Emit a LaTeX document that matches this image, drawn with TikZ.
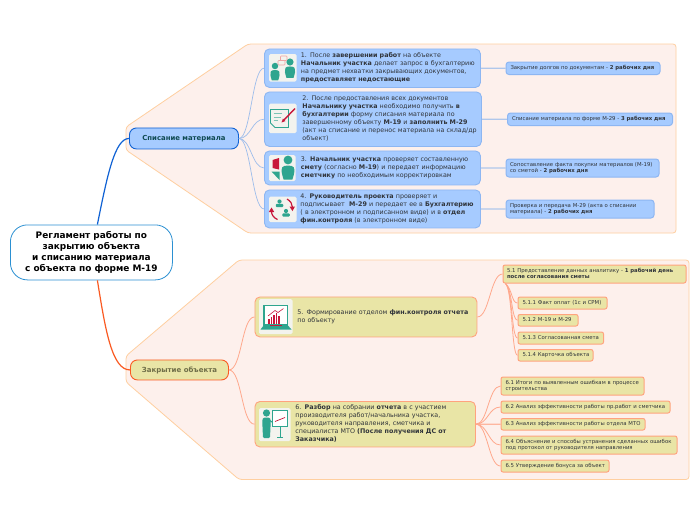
\documentclass[tikz,border=0pt]{standalone}
\usepackage{fontspec}
\setmainfont{DejaVu Sans}
\usepackage{array}
\definecolor{bluefill}{HTML}{A6CBFF}
\definecolor{blueedge}{HTML}{8DB6F2}
\definecolor{bluedark}{HTML}{1062D4}
\definecolor{bluewire}{HTML}{9DBDEB}
\definecolor{rootedge}{HTML}{2B90D2}
\definecolor{yelfill}{HTML}{E9E5A6}
\definecolor{orgedge}{HTML}{FFA37E}
\definecolor{orgdark}{HTML}{FA5A22}
\definecolor{orgwire}{HTML}{FFA88C}
\definecolor{zonefill}{HTML}{FDF0EC}
\definecolor{zoneedge}{HTML}{FFCFA0}
\definecolor{txt}{HTML}{30343A}
\definecolor{teal}{HTML}{2EA58F}
\definecolor{crim}{HTML}{C8173A}
\definecolor{iconbg}{HTML}{F3F3EE}
\definecolor{pinkish}{HTML}{EFA3A3}
\definecolor{spistxt}{HTML}{0F4A52}
\definecolor{zakrtxt}{HTML}{6F6E48}
\tikzset{x=1pt,y=-1pt,
  zone/.style={draw=zoneedge,fill=zonefill,line width=0.8pt,rounded corners=3pt},
  boxbase/.style={rectangle,text=txt,align=left},
  bigblue/.style={boxbase,fill=bluefill,draw=blueedge,line width=0.9pt,rounded corners=5pt,font=\fontsize{6.35}{8.05}\selectfont},
  smallblue/.style={boxbase,fill=bluefill,draw=blueedge,line width=1pt,rounded corners=3pt,font=\fontsize{5.35}{6.1}\selectfont},
  bigyel/.style={boxbase,fill=yelfill,draw=orgedge,line width=0.9pt,rounded corners=5pt,font=\fontsize{6.35}{8.05}\selectfont},
  smallyel/.style={boxbase,fill=yelfill,draw=orgedge,line width=1pt,rounded corners=2pt,font=\fontsize{5.35}{6.1}\selectfont},
  bluewireline/.style={draw=bluewire,line width=0.7pt},
  orgwireline/.style={draw=orgwire,line width=0.8pt},
  flat/.style={line width=1.1pt,opacity=.8},
  iconbox/.style={fill=iconbg,rounded corners=1.5pt}}
\newcommand\bx[8]{%
  \pgfmathsetmacro\bxw{#5-#3}\pgfmathsetmacro\bxh{#6-#4}%
  \node[#2,anchor=north west,inner sep=0pt,text width=\bxw pt,minimum height=\bxh pt] (#1) at (#3,#4)
   {\hspace*{#7pt}\begin{tabular}{@{}l@{}}#8\end{tabular}};}
\newcommand\person[3]{\begin{scope}[shift={(#1,#2)},scale=#3]
  \fill[teal] (0,0) circle[radius=3.4pt];
  \fill[teal] (-3.4,15) .. controls (-4.6,11) and (-5.6,8) .. (-4.4,5.6) .. controls (-3.4,3.8) and (3.4,3.8) .. (4.4,5.6) .. controls (5.6,8) and (4.6,11) .. (3.4,15) -- cycle;
\end{scope}}
\begin{document}
\begin{tikzpicture}
\useasboundingbox (0,0) rectangle (696,520);
\fill[white] (0,0) rectangle (696,520);
% zones
\draw[zone] (126,127) -- (248,44) -- (676,44) -- (676,233) -- (248,233) -- (126,150) -- cycle;
\draw[zone] (126,356) -- (239,260) -- (689,260) -- (689,479.5) -- (239,479.5) -- (126,382) -- cycle;
% nodes
\node[draw=rootedge,fill=white,line width=0.8pt,rounded corners=17pt,anchor=north west,minimum width=162pt,minimum height=55pt,inner sep=0pt,align=center,font=\fontsize{8.95}{11}\selectfont\bfseries] (root) at (10,224.5)
 {Регламент работы по\\закрытию объекта\\и списанию материала\\с объекта по форме М-19};
\node[fill=bluefill,draw=bluedark,line width=0.9pt,rounded corners=7pt,anchor=north west,minimum width=109pt,minimum height=21pt,inner sep=0pt,text=spistxt,font=\fontsize{6.9}{8}\selectfont\bfseries] (spis) at (129,127.5) {Списание материала};
\node[fill=yelfill,draw=orgdark,line width=0.9pt,rounded corners=7pt,anchor=north west,minimum width=98pt,minimum height=20pt,inner sep=0pt,text=zakrtxt,font=\fontsize{7}{8}\selectfont\bfseries] (zakr) at (130,359.5) {Закрытие объекта};
\bx{n1}{bigblue}{264}{48.5}{480}{87}{36.5}{1. После \textbf{завершении работ} на объекте\\\textbf{Начальник участка} делает запрос в бухгалтерию\\на предмет нехватки закрывающих документов,\\\textbf{предоставляет недостающие}}
\bx{n2}{bigblue}{264}{91.5}{481}{146}{38}{2. После предоставления всех документов\\\textbf{Начальнику участка} необходимо получить \textbf{в}\\\textbf{бухгалтерии} форму списания материала по\\завершенному объекту \textbf{М-19} и \textbf{заполнить М-29}\\(акт на списание и перенос материала на склад/др\\объект)}
\bx{n3}{bigblue}{264}{150.5}{480}{184.5}{36.5}{3. \textbf{Начальник участка} проверяет составленную\\\textbf{смету} (согласно \textbf{М-19}) и передает информацию\\\textbf{сметчику} по необходимым корректировкам}
\bx{n4}{bigblue}{264}{189.5}{480}{227.5}{36}{4. \textbf{Руководитель проекта} проверяет и\\подписывает\ \ \textbf{М-29} и передает ее в \textbf{Бухгалтерию}\\( в электронном и подписанном виде) и в \textbf{отдел}\\\textbf{фин.контроля} (в электронном виде)}
\bx{r1}{smallblue}{505.5}{61.5}{659.5}{74}{4.5}{Закрытие долгов по документам - \textbf{2 рабочих дня}}
\bx{r2}{smallblue}{507}{112.5}{672}{125}{4.5}{Списание материала по форме М-29 - \textbf{3 рабочих дня}}
\bx{r3}{smallblue}{505.5}{158.5}{658.5}{176.5}{4}{Сопоставление факта покупки материалов (М-19)\\со сметой - \textbf{2 рабочих дня}}
\bx{r4}{smallblue}{505.5}{199.5}{653.5}{217.5}{4}{Проверка и передача М-29 (акта о списании\\материала) - \textbf{2 рабочих дня}}
\bx{n5}{bigyel}{254.5}{296.5}{476.5}{336.5}{42.5}{5. Формирование отделом \textbf{фин.контроля отчета}\\по объекту}
\bx{n6}{bigyel}{254.5}{401}{475}{446.5}{40.5}{6. \textbf{Разбор} на собрании \textbf{отчета} в с участием\\производителя работ/начальника участка,\\руководителя направления, сметчика и\\специалиста МТО \textbf{(После получения ДС от}\\\textbf{Заказчика)}}
\bx{a1}{smallyel}{502.5}{264.5}{685.5}{282.5}{4}{5.1 Предоставление данных аналитику - \textbf{1 рабочий день}\\\textbf{после согласования сметы}}
\bx{a2}{smallyel}{517.5}{296.5}{606.5}{308.5}{4.5}{5.1.1 Факт оплат (1с и CPM)}
\bx{a3}{smallyel}{517.5}{314}{577.5}{325.5}{4.5}{5.1.2 М-19 и М-29}
\bx{a4}{smallyel}{517.5}{331.5}{603}{343.5}{4.5}{5.1.3 Согласованная смета}
\bx{a5}{smallyel}{517.5}{349}{592.5}{360.5}{4.5}{5.1.4 Карточка объекта}
\bx{b1}{smallyel}{500.5}{376.5}{643.5}{394.5}{4.5}{6.1 Итоги по выявленным ошибкам в процессе\\строительства}
\bx{b2}{smallyel}{500.5}{400.5}{669.5}{412.5}{4.5}{6.2 Анализ эффективности работы пр.работ и сметчика}
\bx{b3}{smallyel}{500.5}{418}{644.5}{429.5}{4.5}{6.3 Анализ эффективности работы отдела МТО}
\bx{b4}{smallyel}{500.5}{435.5}{676.5}{453.5}{4.5}{6.4 Объяснение и способы устранения сделанных ошибок\\под протокол от руководителя направления}
\bx{b5}{smallyel}{500.5}{459.5}{608.5}{471.5}{4.5}{6.5 Утверждение бонуса за объект}
% connectors
\draw[bluedark,line width=1.2pt] ([xshift=6pt]root.north) .. controls +(10,-50) and +(-14,0) .. (spis.west);
\draw[orgdark,line width=1.2pt] ([xshift=6pt]root.south) .. controls +(8,50) and +(-18,0) .. (zakr.west);
\foreach \t in {n1,n2,n3,n4}{\draw[bluewireline] (spis.east) .. controls +(12,0) and +(-12,0) .. (\t.west);}
\draw[orgwireline] (zakr.east) .. controls +(13,0) and +(-13,0) .. (n5.west);
\draw[orgwireline] (zakr.east) .. controls +(13,0) and +(-13,0) .. (n6.west);
\draw[orgwireline] (n5.east) .. controls +(12,0) and +(-12,0) .. (a1.west);
\foreach \t in {a2,a3,a4,a5}{\draw[orgwireline] ([xshift=3pt]a1.south west) .. controls +(7,6) and +(-6,0) .. (\t.west);}
\foreach \t in {b1,b2,b4,b5}{\draw[orgwireline] (n6.east) .. controls +(12,0) and +(-12,0) .. (\t.west);}
\draw[orgwire,flat] (n6.east) -- (b3.west);
\draw[bluewire,flat] (n1.east) -- (r1.west);
\draw[bluewire,flat] (n2.east) -- (r2.west);
\draw[bluewire,flat] (n3.east) -- (r3.west);
\draw[bluewire,flat] (n4.east) -- (r4.west);
% icon 1
\fill[iconbox] (269,54) rectangle (296.5,81.5);
\person{275}{66}{.95}\person{290}{62}{1.05}
\draw[pinkish,line width=.6pt,fill=iconbg,rounded corners=.8pt] (280.5,56) rectangle (287,60.5);
\draw[pinkish,line width=.6pt,fill=iconbg,rounded corners=.8pt] (278,60.5) rectangle (285,65);
% icon 2
\fill[iconbox] (269,103.5) rectangle (296.5,133);
\draw[teal,line width=.8pt] (270.5,109.5) -- (288.5,109.5) -- (288.5,127.5) -- (275,127.5) -- (270.5,123) -- cycle;
\draw[teal!60!iconbg,line width=.9pt] (273.5,113.5) -- (282,113.5) (273.5,117) -- (281,117) (273.5,120.5) -- (278,120.5);
\draw[crim,line width=1.4pt] (295,108.5) -- (284,120);
\fill[crim] (281.5,122.5) -- (283,118.5) -- (285.5,121) -- cycle;
% icon 3
\fill[iconbox] (269,155) rectangle (295.5,181);
\fill[crim] (272.5,160) -- (279,158) -- (279,169.5) -- (272.5,168) -- cycle;
\fill[teal] (271.5,171.5) -- (279.5,171.5) -- (279.5,180) -- cycle;
\person{288}{160}{1.3}
% icon 4
\fill[iconbox] (269,196.5) rectangle (296.5,222);
\begin{scope}[shift={(279.5,201.5)},scale=.75]\fill[teal] (0,0) circle[radius=2.8pt];\fill[teal,rounded corners=1pt] (-5,7.5) rectangle (5,3);\end{scope}
\begin{scope}[shift={(286,211)},scale=.75]\fill[teal] (0,0) circle[radius=2.8pt];\fill[teal,rounded corners=1pt] (-5,7.5) rectangle (5,3);\end{scope}
\draw[crim,line width=1.2pt] (287,199) .. controls (290.5,201) and (292.5,204) .. (292.5,207.5);
\fill[crim] (289.5,206.5) -- (295,206.5) -- (292.5,211) -- cycle;
\draw[crim,line width=1.2pt] (277.5,219.5) .. controls (274,218) and (271.5,215) .. (271.5,211.5);
\fill[crim] (268.8,212) -- (274.2,212) -- (271.5,207.5) -- cycle;
% icon 5
\fill[iconbox] (259,299) rectangle (292.5,334);
\draw[teal,line width=1.1pt,fill=white] (264,305.5) rectangle (287.5,325);
\fill[teal] (264,325) -- (287.5,325) -- (291.5,329.5) -- (260.5,329.5) -- cycle;
\fill[crim] (270,325.2) rectangle (282,326.4);
\fill[crim] (268,319) rectangle (269.6,323.5);
\fill[crim] (270.6,317) rectangle (272.2,323.5);
\fill[crim] (273.2,315) rectangle (274.8,323.5);
\fill[crim] (275.8,313) rectangle (277.4,323.5);
\fill[crim] (278.4,316) rectangle (280,323.5);
\draw[crim,line width=.6pt] (268,316) -- (275,310.5) -- (278,312.5) -- (283.5,308.5);
% icon 6
\fill[iconbox] (259,408) rectangle (290.5,441);
\fill[teal] (266.5,413) circle[radius=3.6pt];
\fill[teal,rounded corners=1.2pt] (263,438) -- (262.2,420) -- (263.5,417.5) -- (269.5,417.5) -- (270.8,420) -- (270,438) -- cycle;
\draw[teal,line width=1pt] (269,420) -- (275,424);
\draw[teal,line width=.7pt,fill=white] (272,410.5) rectangle (287,426.5);
\draw[crim,line width=.7pt] (275,421.5) -- (285,417.5);
\draw[teal,line width=.8pt] (280,426.5) -- (280,436.5);
\fill[teal] (277,436.5) rectangle (283,438);
\end{tikzpicture}
\end{document}
